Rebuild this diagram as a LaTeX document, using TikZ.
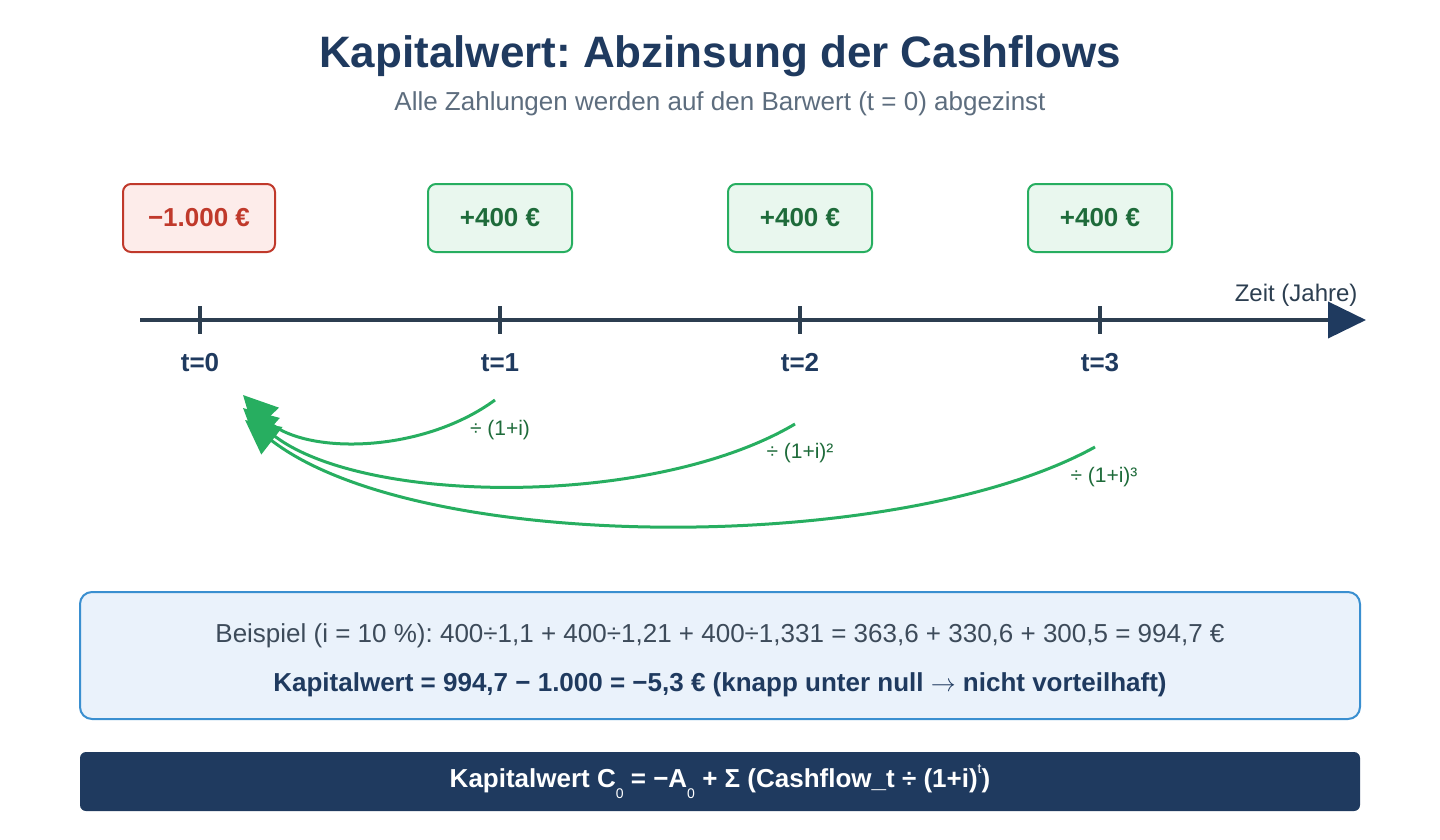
\documentclass[tikz,border=0pt]{standalone}
\usepackage{fontspec}
\setmainfont{Liberation Sans}
\usetikzlibrary{arrows.meta}
\frenchspacing

\definecolor{navy}{HTML}{1F3A5F}
\definecolor{slate}{HTML}{2C3E50}
\definecolor{greytext}{HTML}{5D6D7E}
\definecolor{bodytext}{HTML}{3D4B5A}
\definecolor{negred}{HTML}{C0392B}
\definecolor{negfill}{HTML}{FDECEA}
\definecolor{posgreen}{HTML}{27AE60}
\definecolor{posfill}{HTML}{E9F7EE}
\definecolor{posdark}{HTML}{1E6B3A}
\definecolor{infoblue}{HTML}{3A8FD0}
\definecolor{infofill}{HTML}{EAF2FB}

\newcommand{\subnull}{\raisebox{-0.4em}{\fontsize{14}{14}\selectfont\mdseries 0}}
\newcommand{\supt}{\raisebox{0.55em}{\fontsize{14}{14}\selectfont\mdseries t}}

\begin{document}
\begin{tikzpicture}[x=1pt, y=-1pt,
    cash/.style={draw, line width=2pt, rounded corners=8pt, minimum width=144pt, minimum height=68pt, font=\fontsize{26}{30}\selectfont\bfseries},
    tlabel/.style={anchor=base, text=navy, font=\fontsize{26}{30}\selectfont\bfseries},
    disc/.style={posgreen, line width=3pt, -{Triangle[length=34pt,width=34pt]}},
    disclabel/.style={text=posdark, font=\fontsize{21}{25}\selectfont}]
    \useasboundingbox (0,0) rectangle (1440,840);

    % Title
    \node[anchor=base, text=navy, font=\fontsize{44}{50}\selectfont\bfseries] (title) at (720,68) {Kapitalwert: Abzinsung der Cashflows};
    \node[anchor=base, text=greytext, font=\fontsize{26}{30}\selectfont] (subtitle) at (720,111) {Alle Zahlungen werden auf den Barwert (t = 0) abgezinst};

    % Cashflows
    \node[cash, minimum width=152pt, fill=negfill, draw=negred, text=negred] (cf0) at (199,218) {−1.000 €};
    \node[cash, fill=posfill, draw=posgreen, text=posdark] (cf1) at (500,218) {+400 €};
    \node[cash, fill=posfill, draw=posgreen, text=posdark] (cf2) at (800,218) {+400 €};
    \node[cash, fill=posfill, draw=posgreen, text=posdark] (cf3) at (1100,218) {+400 €};

    % Time axis
    \coordinate (axstart) at (140,320);
    \coordinate (axend) at (1366,320);
    \draw[slate, line width=4pt, -{Triangle[length=38pt,width=36pt,fill=navy,color=navy]}] (axstart) -- (axend);
    \foreach \t in {0,1,2,3} {
        \draw[slate, line width=4pt] (200+300*\t,306) -- (200+300*\t,334);
        \node[tlabel] (t\t) at (200+300*\t,371) {t=\t};
    }
    \node[anchor=base east, text=slate, font=\fontsize{24}{28}\selectfont] (zeit) at (1361,301) {Zeit (Jahre)};

    % Discounting arcs
    \coordinate (pv) at (243,395);
    \coordinate (s1) at (495,400);
    \coordinate (s2) at (795,424);
    \coordinate (s3) at (1095,447);
    \draw[disc] (s3) .. controls (900,555) and (420,555) .. (245,420);
    \draw[disc] (s2) .. controls (650,510) and (350,505) .. (243,408);
    \draw[disc] (s1) .. controls (420,455) and (300,455) .. (pv);
    \node[disclabel] (d1) at (500,430) {÷ (1+i)};
    \node[disclabel] (d2) at (800,453) {÷ (1+i)²};
    \node[disclabel] (d3) at (1104,477) {÷ (1+i)³};

    % Example
    \node[draw=infoblue, fill=infofill, line width=2pt, rounded corners=12pt, minimum width=1280pt, minimum height=127pt] (example) at (720,655.5) {};
    \node[anchor=base, text=bodytext, font=\fontsize{26}{30}\selectfont] (calc) at (720,642) {Beispiel (i = 10 \%): 400÷1,1 + 400÷1,21 + 400÷1,331 = 363,6 + 330,6 + 300,5 = 994,7 €};
    \node[anchor=base, text=navy, font=\fontsize{26}{30}\selectfont\bfseries] (result) at (720,691) {Kapitalwert = 994,7 − 1.000 = −5,3 € (knapp unter null $\rightarrow$ nicht vorteilhaft)};

    % Formula
    \node[fill=navy, rounded corners=6pt, minimum width=1280pt, minimum height=59pt, text=white, font=\fontsize{26}{30}\selectfont\bfseries] (formula) at (720,781.5) {Kapitalwert C\subnull{} = −A\subnull{} + Σ (Cashflow\_t ÷ (1+i)\supt)};
\end{tikzpicture}
\end{document}
